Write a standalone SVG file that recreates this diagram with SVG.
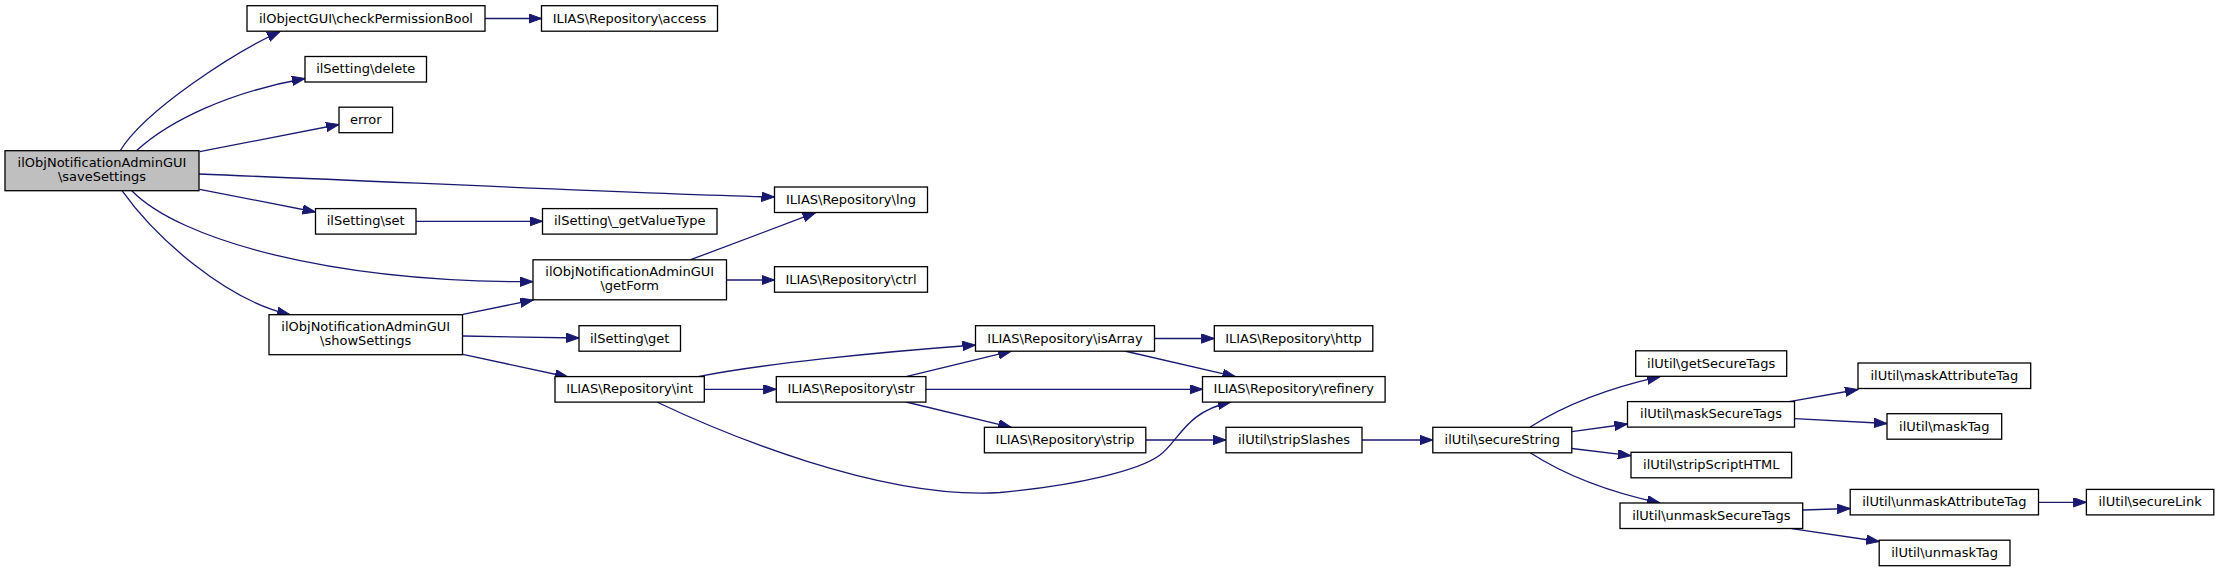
<svg xmlns="http://www.w3.org/2000/svg" width="2219" height="572" viewBox="0 0 2219 572">
<style>
.n rect{fill:#ffffff;stroke:#000000;stroke-width:1.3}
.n.hl rect{fill:#bfbfbf}
.n text{font-family:"DejaVu Sans",sans-serif;font-size:13px;fill:#000000;text-anchor:middle}
.e path{fill:none;stroke:#191970;stroke-width:1.3;marker-end:url(#ah)}
</style>
<defs>
<marker id="ah" markerUnits="userSpaceOnUse" markerWidth="14" markerHeight="10" refX="13" refY="4.7" orient="auto">
<path d="M0,0 L13,4.7 L0,9.4 z" fill="#191970" stroke="#191970" stroke-width="1"/>
</marker>
</defs>
<rect width="2219" height="572" fill="#ffffff"/>
<g id="edges" class="e">
<path d="M120,151 C145,110 235,52 280,31.5"/>
<path d="M136.7,150.5 C170,120 230,92 305,78.5"/>
<path d="M199.7,151.7 L339,124.5"/>
<path d="M198.7,174 C400,182 650,194 774.5,197"/>
<path d="M199.7,189.3 L315.5,212"/>
<path d="M416,221.3 L542.5,221.3"/>
<path d="M131.8,190.7 C180,240 330,282 533,281.7"/>
<path d="M122,190.7 C155,237 225,300 290,314.7"/>
<path d="M485,18.5 L541.5,18.5"/>
<path d="M690.7,259.7 L815.5,212.7"/>
<path d="M726.5,280 L774.5,280"/>
<path d="M462.9,314.3 L533.2,300"/>
<path d="M462.9,336 L579,338"/>
<path d="M462.9,354.3 L568,377"/>
<path d="M698,376.7 C760,364 880,352 975.5,345"/>
<path d="M704.3,389.3 L776.3,389.3"/>
<path d="M656.8,402 C720,432 880,500 1000,492.5 C1080,485 1140,470 1160,455 C1180,440 1185,412 1230.8,402"/>
<path d="M906,376.7 L1011.3,351.2"/>
<path d="M926,389.3 L1202.5,389.3"/>
<path d="M906,402 L1011.3,427.3"/>
<path d="M1154.3,338.5 L1214.3,338.5"/>
<path d="M1124.6,351 L1235.5,376.7"/>
<path d="M1145.8,440 L1226,440"/>
<path d="M1362,440 L1432.8,440"/>
<path d="M1530.2,427 C1560,408 1600,390 1660,376.7"/>
<path d="M1571.8,431.7 L1627.5,424"/>
<path d="M1571.8,448.5 L1630.9,455.7"/>
<path d="M1530.2,452.7 C1560,472 1600,490 1660,503"/>
<path d="M1789.2,401.7 L1858,389.5"/>
<path d="M1794.5,418.7 L1887,423.5"/>
<path d="M1802.7,510 L1850.2,508.5"/>
<path d="M2038.5,502.3 L2086.4,502.3"/>
<path d="M1791.6,528.7 L1879.2,541.5"/>
</g>
<g id="saveSettings" class="n hl"><rect x="5" y="150.7" width="194" height="40"/><text x="102" y="167">ilObjNotificationAdminGUI</text><text x="102" y="181">\saveSettings</text></g>
<g id="checkPermissionBool" class="n"><rect x="247" y="5.7" width="238" height="25.5"/><text x="366" y="22.5">ilObjectGUI\checkPermissionBool</text></g>
<g id="access" class="n"><rect x="541.5" y="5.7" width="176" height="25.5"/><text x="629.5" y="22.5">ILIAS\Repository\access</text></g>
<g id="delete" class="n"><rect x="305" y="56.5" width="121.5" height="25.5"/><text x="365.7" y="73.3">ilSetting\delete</text></g>
<g id="error" class="n"><rect x="339" y="107.2" width="53.6" height="25.5"/><text x="365.8" y="124">error</text></g>
<g id="lng" class="n"><rect x="774.5" y="187" width="153" height="25.5"/><text x="851" y="203.8">ILIAS\Repository\lng</text></g>
<g id="set" class="n"><rect x="315.5" y="208.6" width="100.5" height="25.5"/><text x="365.7" y="225.4">ilSetting\set</text></g>
<g id="getValueType" class="n"><rect x="542.5" y="208.6" width="174.5" height="25.5"/><text x="629.7" y="225.4">ilSetting\_getValueType</text></g>
<g id="getForm" class="n"><rect x="533" y="259.8" width="193.5" height="40"/><text x="629.7" y="276.1">ilObjNotificationAdminGUI</text><text x="629.7" y="290.1">\getForm</text></g>
<g id="ctrl" class="n"><rect x="774.5" y="266.7" width="153" height="25.5"/><text x="851" y="283.5">ILIAS\Repository\ctrl</text></g>
<g id="showSettings" class="n"><rect x="269" y="314.7" width="193.5" height="40"/><text x="365.7" y="331">ilObjNotificationAdminGUI</text><text x="365.7" y="345">\showSettings</text></g>
<g id="get" class="n"><rect x="579" y="325.7" width="101.5" height="25.5"/><text x="629.7" y="342.5">ilSetting\get</text></g>
<g id="int" class="n"><rect x="555" y="376.6" width="149.3" height="25.5"/><text x="629.6" y="393.4">ILIAS\Repository\int</text></g>
<g id="isArray" class="n"><rect x="975.5" y="325.7" width="179" height="25.5"/><text x="1065" y="342.5">ILIAS\Repository\isArray</text></g>
<g id="http" class="n"><rect x="1214.3" y="325.7" width="158.5" height="25.5"/><text x="1293.5" y="342.5">ILIAS\Repository\http</text></g>
<g id="str" class="n"><rect x="776.3" y="376.6" width="149.6" height="25.5"/><text x="851.1" y="393.4">ILIAS\Repository\str</text></g>
<g id="refinery" class="n"><rect x="1202.5" y="376.6" width="182.6" height="25.5"/><text x="1293.8" y="393.4">ILIAS\Repository\refinery</text></g>
<g id="strip" class="n"><rect x="984.4" y="427.3" width="161.4" height="25.5"/><text x="1065.1" y="444.1">ILIAS\Repository\strip</text></g>
<g id="stripSlashes" class="n"><rect x="1226" y="427.3" width="136" height="25.5"/><text x="1294" y="444.1">ilUtil\stripSlashes</text></g>
<g id="secureString" class="n"><rect x="1432.8" y="427.3" width="139" height="25.5"/><text x="1502.3" y="444.1">ilUtil\secureString</text></g>
<g id="getSecureTags" class="n"><rect x="1635.7" y="350.8" width="151" height="25.5"/><text x="1711.2" y="367.6">ilUtil\getSecureTags</text></g>
<g id="maskSecureTags" class="n"><rect x="1627.5" y="401.6" width="167" height="25.5"/><text x="1711" y="418.4">ilUtil\maskSecureTags</text></g>
<g id="maskAttributeTag" class="n"><rect x="1858" y="363" width="172.7" height="25.5"/><text x="1944.3" y="379.8">ilUtil\maskAttributeTag</text></g>
<g id="maskTag" class="n"><rect x="1887" y="413.7" width="114.7" height="25.5"/><text x="1944.3" y="430.5">ilUtil\maskTag</text></g>
<g id="stripScriptHTML" class="n"><rect x="1631" y="452.3" width="160.6" height="25.5"/><text x="1711.3" y="469.1">ilUtil\stripScriptHTML</text></g>
<g id="unmaskSecureTags" class="n"><rect x="1620" y="503" width="182.7" height="25.5"/><text x="1711.3" y="519.8">ilUtil\unmaskSecureTags</text></g>
<g id="unmaskAttributeTag" class="n"><rect x="1850.2" y="489.4" width="188.3" height="25.5"/><text x="1944.3" y="506.2">ilUtil\unmaskAttributeTag</text></g>
<g id="secureLink" class="n"><rect x="2086.4" y="489.4" width="127.4" height="25.5"/><text x="2150.1" y="506.2">ilUtil\secureLink</text></g>
<g id="unmaskTag" class="n"><rect x="1879.2" y="540.2" width="130.8" height="25.5"/><text x="1944.6" y="557">ilUtil\unmaskTag</text></g>
</svg>
